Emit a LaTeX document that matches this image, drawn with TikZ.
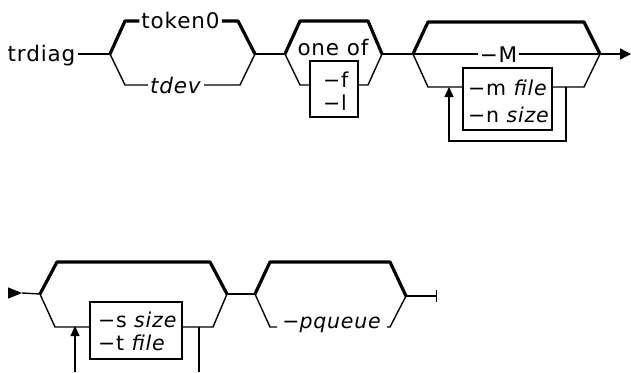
\documentclass[tikz,border=0pt]{standalone}
\usepackage{fontspec}
\setmainfont[LetterSpace=4]{DejaVu Sans}
\usetikzlibrary{arrows.meta}
\begin{document}
\begin{tikzpicture}[x=1pt,y=-1pt,
  thinline/.style={line width=1.4pt},
  thickline/.style={line width=3.2pt, line join=round},
  lbl/.style={inner sep=2pt, font=\fontsize{21.5}{24}\selectfont},
  sml/.style={inner sep=2pt, font=\fontsize{20.5}{24}\selectfont},
  optbox/.style={draw, line width=1.4pt, inner sep=0pt},
  uptip/.style={-{Triangle[length=10pt,width=9pt]}},
]
\useasboundingbox (0,0) rectangle (631,372);

% ---------- row 1 ----------
\node[lbl, anchor=base] (trd) at (41.5,61.5) {trdiag};
\coordinate (a1) at (110,54);
\coordinate (a2) at (255,54);
\node[lbl, anchor=base] (tok) at (180.5,28) {token0};
\node[lbl, anchor=base] (tdev) at (176,93) {\textit{tdev}};
\draw[thinline] (trd.east |- 0,54) -- (a1);
\draw[thickline] (a1) -- (125,21) -- (tok.west |- 0,21);
\draw[thickline] (tok.east |- 0,21) -- (238,21) -- (a2);
\draw[thinline] (a1) -- (125,85) -- (tdev.west |- 0,85);
\draw[thinline] (tdev.east |- 0,85) -- (240,85) -- (a2);

\coordinate (b1) at (285,54);
\coordinate (b2) at (382,54);
\draw[thinline] (a2) -- (b1);
\draw[thickline] (b1) -- (300,21) -- (368,21) -- (b2);
\node[lbl, anchor=base] (oneof) at (333,55) {one of};
\node[optbox, minimum width=48pt, minimum height=56pt] (bx1) at (334,89) {};
\node[sml, anchor=base west] (f) at (321,87) {−f};
\node[sml, anchor=base west] (l) at (321,110) {−l};
\draw[thinline] (b1) -- (300,85) -- (bx1.west |- 0,85);
\draw[thinline] (bx1.east |- 0,85) -- (368,85) -- (b2);

\coordinate (c1) at (413,54);
\coordinate (c2) at (600,54);
\coordinate (cend) at (631,54);
\draw[thinline] (b2) -- (c1);
\draw[thickline] (c1) -- (428,22) -- (584,22) -- (c2);
\node[lbl, anchor=base] (M) at (498.5,62) {−M};
\draw[thinline] (c1) -- (M.west |- 0,54);
\draw[thinline] (M.east |- 0,54) -- (c2);
\draw[thinline, -{Triangle[length=11pt,width=11pt]}] (c2) -- (cend);
\node[optbox, minimum width=89pt, minimum height=62pt] (bx2) at (507.5,99) {};
\node[sml, anchor=base west] (mfile) at (466,95) {−m \textit{file}};
\node[sml, anchor=base west] (nsize) at (466,122) {−n \textit{size}};
\draw[thinline] (c1) -- (428,87) -- (bx2.west |- 0,87);
\draw[thinline] (bx2.east |- 0,87) -- (584,87) -- (c2);
\coordinate (l1) at (566,87);
\coordinate (l2) at (449,87);
\draw[thinline, uptip] (l1) -- (566,141) -- (449,141) -- (l2);

% ---------- row 2 ----------
\coordinate (s0) at (8,293);
\coordinate (s1) at (22,293);
\coordinate (d1) at (40,294);
\coordinate (d2) at (227,294);
\draw[thinline, -{Triangle[length=14pt,width=11pt]}] (s0) -- (s1);
\draw[thinline] (s1) -- (d1);
\draw[thickline] (d1) -- (57,262) -- (210,262) -- (d2);
\node[optbox, minimum width=92pt, minimum height=57pt] (bx3) at (136,330.5) {};
\node[sml, anchor=base west] (ssize) at (96,327) {−s \textit{size}};
\node[sml, anchor=base west] (tfile) at (96,350) {−t \textit{file}};
\draw[thinline] (d1) -- (55,327) -- (bx3.west |- 0,327);
\draw[thinline] (bx3.east |- 0,327) -- (213,327) -- (d2);
\coordinate (m1) at (199,327);
\coordinate (m1b) at (199,372);
\coordinate (m2b) at (75,372);
\coordinate (m2) at (75,326);
\draw[thinline] (m1) -- (m1b);
\draw[thinline, uptip] (m2b) -- (m2);

\coordinate (e1) at (255,294);
\coordinate (e2) at (406,296);
\coordinate (eend) at (437,296);
\draw[thinline] (d2) -- (e1);
\draw[thickline] (e1) -- (270,262) -- (390,262) -- (e2);
\node[sml, anchor=base, inner sep=5pt] (pq) at (332,328) {−\textit{pqueue}};
\draw[thinline] (e1) -- (270,327) -- (pq.west |- 0,327);
\draw[thinline] (pq.east |- 0,327) -- (390,327) -- (e2);
\draw[thinline, -{Bar[width=12pt]}] (e2) -- (eend);
\end{tikzpicture}
\end{document}
